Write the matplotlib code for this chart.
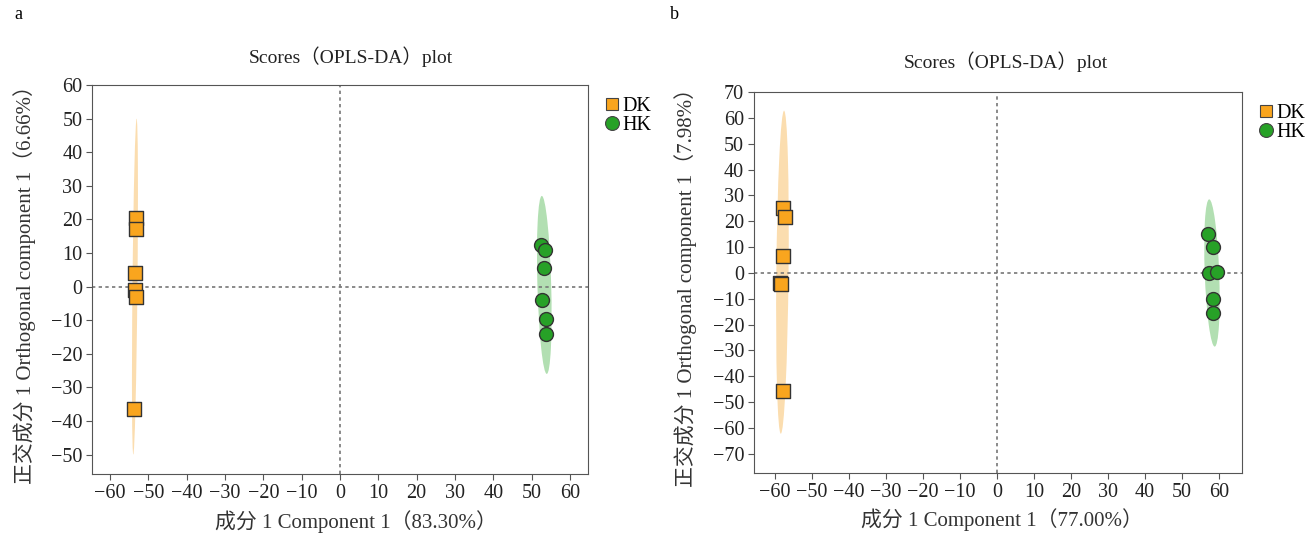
import matplotlib
matplotlib.use('Agg')
import matplotlib.pyplot as plt
from matplotlib.patches import Ellipse
from matplotlib.lines import Line2D

plt.rcParams['font.family'] = ['Liberation Serif', 'Noto Sans CJK SC']
plt.rcParams['axes.unicode_minus'] = True

# panel a
a_dk_x = [-53.1, -53.3, -53.5, -53.5, -53.1, -53.7]
a_dk_y = [20.5, 17.0, 4.0, -1.0, -3.0, -36.5]
a_hk_x = [52.5, 53.5, 53.1, 52.7, 53.8, 53.8]
a_hk_y = [12.3, 10.8, 5.6, -3.9, -9.6, -14.1]
a_ell_dk = (-53.5, 0.0, 1.3, 100.0, -0.5)   # cx, cy, width, height, angle
a_ell_hk = (53.3, 0.5, 3.6, 53.0, 1.4)
a_xlabel = '成分 1 Component 1（83.30%）'
a_ylabel = '正交成分 1 Orthogonal component 1（6.66%）'

# panel b
b_dk_x = [-57.8, -57.2, -57.9, -58.6, -58.4, -57.8]
b_dk_y = [25.2, 21.7, 6.6, -3.7, -4.1, -45.8]
b_hk_x = [57.0, 58.5, 57.3, 59.4, 58.5, 58.3]
b_hk_y = [14.9, 10.2, 0.0, 0.4, -10.2, -15.3]
b_ell_dk = (-58.0, 0.3, 3.3, 125.0, -0.4)
b_ell_hk = (58.1, 0.0, 3.9, 57.0, 1.5)
b_xlabel = '成分 1 Component 1（77.00%）'
b_ylabel = '正交成分 1 Orthogonal component 1（7.98%）'

title = 'Scores（OPLS-DA）plot'
groups = ['DK', 'HK']
dk_color = '#f9a51e'
hk_color = '#27a127'
dk_fill = '#f9c77a'
hk_fill = '#7fcb7f'

fig = plt.figure(figsize=(13.11, 5.35), dpi=100)
ax1 = fig.add_axes([0.0702, 0.114, 0.3783, 0.727])
ax2 = fig.add_axes([0.5751, 0.1159, 0.3722, 0.712])


def draw(ax, dkx, dky, hkx, hky, edk, ehk, xlim, ylim, yticks, xlabel, ylabel, pad, tx, lx):
    for e, c in [(edk, dk_fill), (ehk, hk_fill)]:
        ax.add_patch(Ellipse((e[0], e[1]), e[2], e[3], angle=e[4],
                             facecolor=c, edgecolor='none', alpha=0.6, zorder=1))
    ax.axhline(0, color='#777777', linestyle=(0, (2, 2)), linewidth=1.2, zorder=2)
    ax.axvline(0, color='#777777', linestyle=(0, (2, 2)), linewidth=1.2, zorder=2)
    ax.scatter(dkx, dky, marker='s', s=90, color=dk_color, edgecolor='#333333',
               linewidth=1.0, zorder=3)
    ax.scatter(hkx, hky, marker='o', s=100, color=hk_color, edgecolor='#333333',
               linewidth=1.0, zorder=3)
    ax.set_xlim(xlim)
    ax.set_ylim(ylim)
    ax.set_xticks(range(-60, 61, 10))
    ax.set_yticks(yticks)
    ax.tick_params(labelsize=14.5, length=4, color='#555555', labelcolor='#222222', pad=3)
    for s in ax.spines.values():
        s.set_color('#555555')
    ax.set_xlabel(xlabel, fontsize=15, color='#333333', labelpad=5)
    ax.xaxis.label.set_x(lx)
    ax.set_ylabel(ylabel, fontsize=15, color='#333333', labelpad=11)
    ax.set_title(title, fontsize=14, color='#222222', pad=pad, x=tx)
    handles = [
        Line2D([], [], marker='s', linestyle='none', markersize=9,
               markerfacecolor=dk_color, markeredgecolor='#444444', markeredgewidth=0.8),
        Line2D([], [], marker='o', linestyle='none', markersize=10,
               markerfacecolor=hk_color, markeredgecolor='#444444', markeredgewidth=0.8),
    ]
    ax.legend(handles, groups, loc='upper left', bbox_to_anchor=(1.0, 1.0),
              frameon=False, fontsize=14.5, handletextpad=-0.1, labelspacing=0.0,
              handlelength=1.2, borderaxespad=0.2)


draw(ax1, a_dk_x, a_dk_y, a_hk_x, a_hk_y, a_ell_dk, a_ell_hk,
     (-64.7, 64.7), (-55.8, 60), range(-50, 61, 10), a_xlabel, a_ylabel, 16, 0.521, 0.532)
draw(ax2, b_dk_x, b_dk_y, b_hk_x, b_hk_y, b_ell_dk, b_ell_hk,
     (-65.7, 66.2), (-77.4, 70), range(-70, 71, 10), b_xlabel, b_ylabel, 17, 0.517, 0.508)

fig.text(0.0107, 0.972, 'a', fontsize=13, va='center', ha='left')
fig.text(0.511, 0.972, 'b', fontsize=13, va='center', ha='left')

fig.savefig('out.png', dpi=100)
